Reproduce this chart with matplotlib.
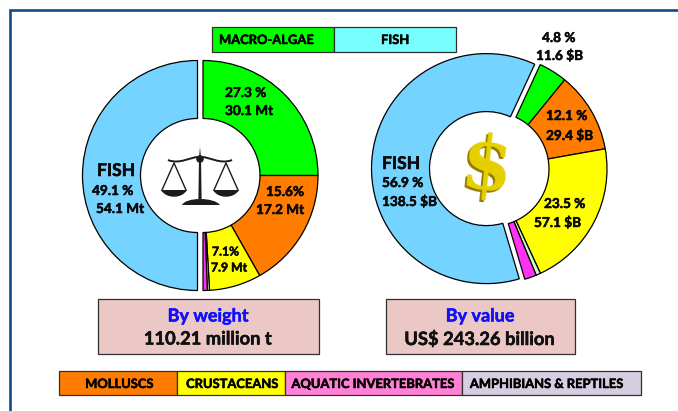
import matplotlib
matplotlib.use("Agg")
import matplotlib.pyplot as plt
from matplotlib.patches import Rectangle, Circle, Polygon
from matplotlib.path import Path
from matplotlib.patches import PathPatch
import matplotlib.patheffects as pe

plt.rcParams['font.family'] = ['Lato', 'DejaVu Sans']

W, H = 678, 411

# Wedge sizes as drawn in the picture (share of the ring, %)
categories = ["MACRO-ALGAE", "MOLLUSCS", "CRUSTACEANS", "AMPHIBIANS & REPTILES", "AQUATIC INVERTEBRATES", "FISH"]
weight_shares = [25.0, 16.8, 7.3, 0.3, 0.6, 50.0]
value_shares = [4.0, 11.3, 20.9, 0.64, 1.67, 61.49]
wedge_colors = ["#00FF00", "#FF7C00", "#FFFF00", "#CCFFCC", "#FF33F0", "#75D3FF"]

top_legend = ["MACRO-ALGAE", "FISH"]
bottom_legend = ["MOLLUSCS", "CRUSTACEANS", "AQUATIC INVERTEBRATES", "AMPHIBIANS & REPTILES"]

fig = plt.figure(figsize=(W / 100, H / 100), dpi=100, facecolor="white")
ax = fig.add_axes([0, 0, 1, 1])

heavy = [pe.withStroke(linewidth=0.35, foreground="black")]


def Y(y):
    return H - y


def ring(values, cx, cy, start):
    ax.pie(values, colors=wedge_colors, center=(cx, Y(cy)), radius=115, startangle=start,
           counterclock=False, explode=[0, 0, 0, 0, 0, 5.5],
           wedgeprops=dict(width=58, edgecolor="black", linewidth=0.9), frame=False)


ring(weight_shares, 203, 175.5, 90)
ring(value_shares, 492, 169, 65.2)
ax.set_xlim(0, W)
ax.set_ylim(0, H)
ax.set_aspect("auto")
ax.axis("off")

# outer frame
ax.plot([10, 10, W], [0, Y(10.5), Y(10.5)], color="#0F4C8A", lw=1.9, solid_joinstyle="miter", zorder=1)


def box(x0, x1, y0, y1, color, ec="#303030"):
    ax.add_patch(Rectangle((x0 + 0.8, Y(y1) - 0.8), x1 - x0, y1 - y0, fc="#a8a8a8", ec="none", zorder=3))
    ax.add_patch(Rectangle((x0, Y(y1)), x1 - x0, y1 - y0, fc=color, ec=ec, lw=0.9, zorder=4))


def legend_text(x, y, s, ha="center"):
    ax.text(x, Y(y), s, ha=ha, va="center", fontsize=9.3, fontweight="bold", color="black",
            zorder=5, path_effects=heavy)


box(212, 334, 27, 52, "#00FF00")
legend_text(219, 40, top_legend[0], ha="left")
box(334, 456, 27, 52, "#77FFFF")
legend_text(395, 40, top_legend[1])

box(59, 177, 371, 395, "#FF7C00")
legend_text(119, 384, bottom_legend[0])
box(177, 285, 371, 395, "#FFFF00")
legend_text(232, 384, bottom_legend[1])
box(285, 462, 371, 395, "#FF80D5")
legend_text(372.5, 384, bottom_legend[2])
box(462, 641, 371, 395, "#D5CDE0")
legend_text(546, 384, bottom_legend[3])

# summary boxes
for x0, x1, head, sub in [(98, 319, "By weight", "110.21 million t"),
                          (386, 575, "By value", "US$ 243.26 billion")]:
    box(x0, x1, 299, 354, "#EBC7C5")
    ax.text((x0 + x1) / 2 - 0.5, Y(316), head, ha="center", va="center", fontsize=13,
            fontweight="bold", color="#1010FF", zorder=5,
            path_effects=[pe.withStroke(linewidth=0.35, foreground="#1010FF")])
    ax.text((x0 + x1) / 2 - 0.5, Y(339), sub, ha="center", va="center", fontsize=13.2,
            fontweight="bold", color="#101010", zorder=5, path_effects=heavy)

# wedge labels
labels = [
    (225, 93, "27.3 %", 9.8), (225, 111, "30.1 Mt", 9.8),
    (266, 192, "15.6%", 9.8), (256, 210, "17.2 Mt", 9.8),
    (212, 252, "7.1%", 8.8), (211, 268, "7.9 Mt", 8.8),
    (97, 171, "FISH", 12.6), (92, 191, "49.1 %", 9.8), (96, 209, "54.1 Mt", 9.8),
    (542, 38, "4.8 %", 9.8), (536, 56, "11.6 $B", 9.8),
    (546, 116, "12.1 %", 9.8), (546, 136, "29.4 $B", 9.8),
    (544, 204, "23.5 %", 9.8), (534, 223, "57.1 $B", 9.8),
    (382, 164, "FISH", 12.6), (382, 183, "56.9 %", 9.8), (382, 202, "138.5 $B", 9.8),
]
for x, y, s, fs in labels:
    ax.text(x, Y(y), s, ha="left", va="center", fontsize=fs, fontweight="bold", color="#0a0a0a",
            zorder=6, path_effects=heavy)

# balance-scale icon
ink = "#1c1c1c"
ax.add_patch(Polygon([(198.4, Y(199)), (201.6, Y(199)), (201, Y(158)), (200, Y(147)), (199, Y(158))],
                     fc=ink, ec="none", zorder=6))
ax.add_patch(Circle((200, Y(159)), 3.8, fc=ink, ec="none", zorder=6))
beam = Path([(168, Y(160)), (180, Y(165)), (192, Y(156)), (200, Y(157)),
             (208, Y(156)), (220, Y(165)), (232, Y(160))],
            [Path.MOVETO, Path.CURVE4, Path.CURVE4, Path.CURVE4, Path.CURVE4, Path.CURVE4, Path.CURVE4])
ax.add_patch(PathPatch(beam, fc="none", ec=ink, lw=1.4, zorder=6))
base = Path([(182, Y(205)), (186, Y(197)), (214, Y(197)), (220, Y(205)), (182, Y(205))],
            [Path.MOVETO, Path.CURVE4, Path.CURVE4, Path.CURVE4, Path.CLOSEPOLY])
ax.add_patch(PathPatch(base, fc=ink, ec="none", zorder=6))
for apex, x0, x1 in [(174, 161, 187), (226, 213, 239)]:
    ax.plot([x0 + 1, apex, x1 - 1], [Y(190), Y(163), Y(190)], color=ink, lw=1.0, zorder=6)
    pan = Path([(x0, Y(190)), (x0 + 5, Y(199)), (x1 - 5, Y(199)), (x1, Y(190)), (x0, Y(190))],
               [Path.MOVETO, Path.CURVE4, Path.CURVE4, Path.CURVE4, Path.CLOSEPOLY])
    ax.add_patch(PathPatch(pan, fc=ink, ec="none", zorder=6))

# dollar-sign icon: dark back layer, then gold face
ax.text(484, Y(171), "$", ha="center", va="center", fontsize=53, fontweight="bold",
        family="DejaVu Serif", color="#8F7A00", rotation=-6, zorder=7)
ax.text(486, Y(169), "$", ha="center", va="center", fontsize=53, fontweight="bold",
        family="DejaVu Serif", color="#E6D000", rotation=-6, zorder=8)

fig.savefig("out.png", dpi=100, facecolor="white")
